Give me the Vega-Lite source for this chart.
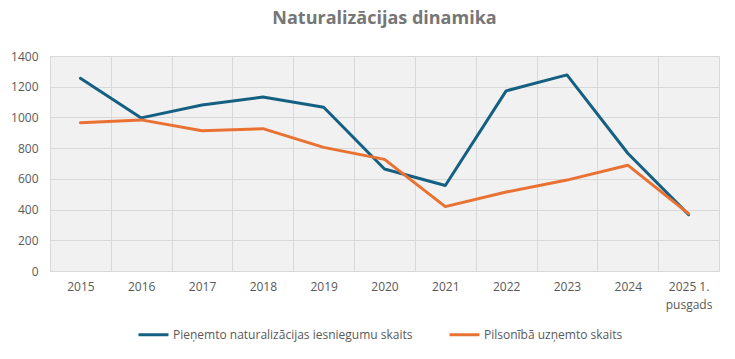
{
  "$schema": "https://vega.github.io/schema/vega-lite/v6.json",
  "autosize": {"type": "none"},
  "width": 669,
  "height": 215,
  "padding": {"left": 50, "top": 56, "right": 16, "bottom": 88},
  "background": "white",
  "title": {"text": "Naturalizācijas dinamika", "font": "Open Sans", "fontSize": 18, "fontWeight": "bold", "color": "#767676", "anchor": "middle", "offset": 22},
  "data": {"values": [
    {"gads": "2015", "s": "Pieņemto naturalizācijas iesniegumu skaits", "v": 1255},
    {"gads": "2016", "s": "Pieņemto naturalizācijas iesniegumu skaits", "v": 997},
    {"gads": "2017", "s": "Pieņemto naturalizācijas iesniegumu skaits", "v": 1081},
    {"gads": "2018", "s": "Pieņemto naturalizācijas iesniegumu skaits", "v": 1133},
    {"gads": "2019", "s": "Pieņemto naturalizācijas iesniegumu skaits", "v": 1066},
    {"gads": "2020", "s": "Pieņemto naturalizācijas iesniegumu skaits", "v": 664},
    {"gads": "2021", "s": "Pieņemto naturalizācijas iesniegumu skaits", "v": 557},
    {"gads": "2022", "s": "Pieņemto naturalizācijas iesniegumu skaits", "v": 1173},
    {"gads": "2023", "s": "Pieņemto naturalizācijas iesniegumu skaits", "v": 1277},
    {"gads": "2024", "s": "Pieņemto naturalizācijas iesniegumu skaits", "v": 767},
    {"gads": "2025 1. pusgads", "s": "Pieņemto naturalizācijas iesniegumu skaits", "v": 367},
    {"gads": "2015", "s": "Pilsonībā uzņemto skaits", "v": 966},
    {"gads": "2016", "s": "Pilsonībā uzņemto skaits", "v": 984},
    {"gads": "2017", "s": "Pilsonībā uzņemto skaits", "v": 913},
    {"gads": "2018", "s": "Pilsonībā uzņemto skaits", "v": 927},
    {"gads": "2019", "s": "Pilsonībā uzņemto skaits", "v": 805},
    {"gads": "2020", "s": "Pilsonībā uzņemto skaits", "v": 727},
    {"gads": "2021", "s": "Pilsonībā uzņemto skaits", "v": 419},
    {"gads": "2022", "s": "Pilsonībā uzņemto skaits", "v": 514},
    {"gads": "2023", "s": "Pilsonībā uzņemto skaits", "v": 592},
    {"gads": "2024", "s": "Pilsonībā uzņemto skaits", "v": 689},
    {"gads": "2025 1. pusgads", "s": "Pilsonībā uzņemto skaits", "v": 374}
  ]},
  "mark": {"type": "line", "strokeWidth": 3, "strokeCap": "round", "strokeJoin": "round"},
  "encoding": {
    "x": {"field": "gads", "type": "nominal", "sort": null, "title": null,
      "scale": {"paddingInner": 0, "paddingOuter": 0},
      "axis": {"labelAngle": 0, "domain": false, "ticks": false, "grid": true, "tickBand": "extent", "gridColor": "#d9d9d9", "labelFont": "Open Sans", "labelFontSize": 12, "labelColor": "#595959", "labelPadding": 10,
        "labelExpr": "datum.value == '2025 1. pusgads' ? ['2025 1.', 'pusgads'] : datum.value", "labelLineHeight": 18}},
    "y": {"field": "v", "type": "quantitative", "title": null,
      "scale": {"domain": [0, 1400]},
      "axis": {"values": [0, 200, 400, 600, 800, 1000, 1200, 1400], "format": "d", "domain": false, "ticks": false, "gridColor": "#d9d9d9", "labelFont": "Open Sans", "labelFontSize": 12, "labelColor": "#595959", "labelPadding": 12}},
    "color": {"field": "s", "type": "nominal", "title": null,
      "scale": {"domain": ["Pieņemto naturalizācijas iesniegumu skaits", "Pilsonībā uzņemto skaits"], "range": ["#156082", "#E97132"]},
      "legend": {"orient": "none", "legendX": 87, "legendY": 262, "direction": "horizontal", "symbolType": "stroke", "symbolSize": 900, "symbolStrokeWidth": 3, "labelFont": "Open Sans", "labelFontSize": 12, "labelColor": "#595959", "labelOffset": 3, "columnPadding": 30, "labelLimit": 400}}
  },
  "config": {"view": {"fill": "#f1f1f1", "stroke": "#d9d9d9"}}
}
